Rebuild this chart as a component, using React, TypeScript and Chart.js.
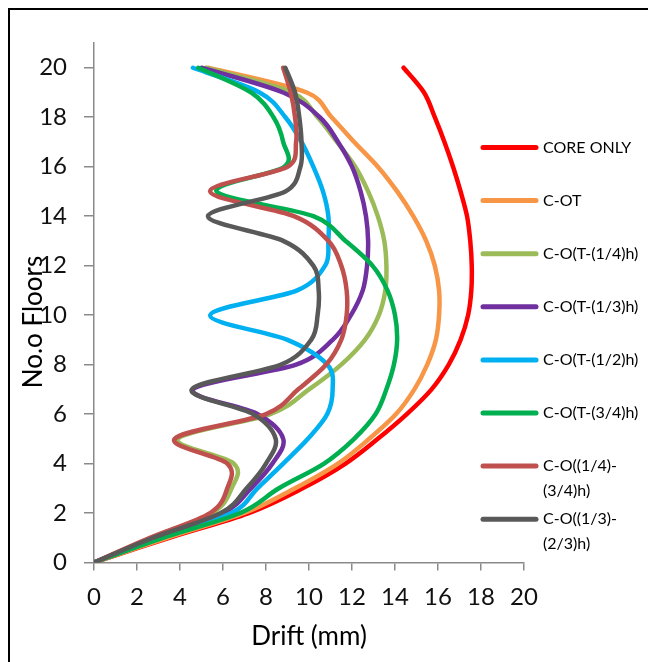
import React, { useEffect, useRef } from 'react';
import { Chart, registerables } from 'chart.js';

Chart.register(...registerables);

// ---- data ----
const floors = [0, 1, 2, 3, 4, 5, 6, 7, 8, 9, 10, 11, 12, 13, 14, 15, 16, 17, 18, 19, 20];
const xTicks = [0, 2, 4, 6, 8, 10, 12, 14, 16, 18, 20];
const yTicks = [0, 2, 4, 6, 8, 10, 12, 14, 16, 18, 20];

const seriesNames = [
  'CORE ONLY',
  'C-OT',
  'C-O(T-(1/4)h)',
  'C-O(T-(1/3)h)',
  'C-O(T-(1/2)h)',
  'C-O(T-(3/4)h)',
  'C-O((1/4)-(3/4)h)',
  'C-O((1/3)-(2/3)h)',
];
const legendLines = [
  ['CORE ONLY'],
  ['C-OT'],
  ['C-O(T-(1/4)h)'],
  ['C-O(T-(1/3)h)'],
  ['C-O(T-(1/2)h)'],
  ['C-O(T-(3/4)h)'],
  ['C-O((1/4)-', '(3/4)h)'],
  ['C-O((1/3)-', '(2/3)h)'],
];

const coreOnly = [0, 3.5, 7.2, 9.7, 11.7, 13.2, 14.55, 15.7, 16.5, 17.05, 17.4, 17.55, 17.57, 17.5, 17.35, 17.05, 16.7, 16.3, 15.85, 15.35, 14.4];
const cOT = [0, 3.4, 7.0, 9.35, 11.35, 12.8, 14.05, 14.9, 15.5, 15.9, 16.05, 16.05, 15.85, 15.45, 14.85, 14.1, 13.2, 12.1, 11.05, 9.9, 5.3];
const cOT14 = [0, 2.65, 5.5, 6.4, 6.5, 3.9, 8.2, 10.0, 11.5, 12.6, 13.25, 13.55, 13.6, 13.5, 13.2, 12.75, 12.15, 11.3, 10.4, 9.2, 5.2];
const cOT13 = [0, 2.8, 6.0, 7.3, 8.3, 8.8, 7.6, 4.6, 9.4, 11.1, 11.95, 12.5, 12.7, 12.75, 12.65, 12.4, 12.0, 11.35, 10.5, 8.8, 5.0];
const cOT12 = [0, 3.0, 6.4, 7.6, 8.8, 9.95, 10.85, 11.1, 10.85, 9.0, 5.4, 9.45, 10.75, 10.9, 10.9, 10.65, 10.2, 9.65, 8.9, 7.7, 4.6];
const cOT34 = [0, 3.2, 6.8, 8.6, 10.7, 12.1, 13.1, 13.6, 13.95, 14.1, 14.0, 13.65, 12.95, 11.7, 10.2, 5.7, 8.85, 8.8, 8.35, 7.3, 4.85];
const cO1434 = [0, 2.6, 5.4, 6.2, 6.2, 3.75, 8.0, 9.5, 10.8, 11.5, 11.75, 11.75, 11.5, 10.9, 9.3, 5.4, 9.0, 9.4, 9.35, 9.15, 8.8];
const cO1323 = [0, 2.75, 5.9, 7.1, 8.0, 8.45, 7.4, 4.55, 8.7, 10.1, 10.4, 10.45, 10.2, 8.8, 5.3, 8.9, 9.6, 9.65, 9.55, 9.35, 8.9];

const seriesValues = [coreOnly, cOT, cOT14, cOT13, cOT12, cOT34, cO1434, cO1323];
const seriesColors = ['#FF0000', '#F79646', '#9BBB59', '#7030A0', '#00B0F0', '#00B050', '#C0504D', '#595959'];

const FONT = 'Lato, "Open Sans", "DejaVu Sans", sans-serif';
const AXIS_COLOR = '#8a8a8a';

// Excel-like "smoothed line": Bezier arms = (P[i+1]-P[i-1])/6, capped at half the segment length
function excelControlPoints(pts: any[]) {
  const n = pts.length;
  const dist = (a: any, b: any) => Math.hypot(b.x - a.x, b.y - a.y);
  for (let i = 0; i < n - 1; i++) {
    const p0 = pts[Math.max(0, i - 1)];
    const p1 = pts[i];
    const p2 = pts[i + 1];
    const p3 = pts[Math.min(n - 1, i + 2)];
    const d12 = dist(p1, p2);
    const d02 = dist(p0, p2);
    const d13 = dist(p1, p3);
    let f1 = 1 / 6;
    let f2 = 1 / 6;
    if (d02 / 6 >= d12 / 2 && d02 > 0) f1 = d12 / 2 / d02;
    if (d13 / 6 >= d12 / 2 && d13 > 0) f2 = d12 / 2 / d13;
    p1.cp2x = p1.x + f1 * (p2.x - p0.x);
    p1.cp2y = p1.y + f1 * (p2.y - p0.y);
    p2.cp1x = p2.x - f2 * (p3.x - p1.x);
    p2.cp1y = p2.y - f2 * (p3.y - p1.y);
  }
  if (n) {
    pts[0].cp1x = pts[0].x; pts[0].cp1y = pts[0].y;
    pts[n - 1].cp2x = pts[n - 1].x; pts[n - 1].cp2y = pts[n - 1].y;
  }
}

const smoothPlugin = {
  id: 'excelSmooth',
  afterDatasetsUpdate(chart: any) {
    chart.getSortedVisibleDatasetMetas().forEach((meta: any) => {
      const line = meta.dataset;
      if (!line) return;
      line.updateControlPoints = function () {
        excelControlPoints(this._points || meta.data);
        this._pointsUpdated = true;
      };
      line._pointsUpdated = false;
    });
  },
  beforeDatasetDraw(chart: any, args: any) {
    const line = args.meta.dataset;
    if (!line) return;
    excelControlPoints(args.meta.data);
    line._pointsUpdated = true;
    line._path = undefined;
  },
};

const decorPlugin = {
  id: 'decor',
  afterDraw(chart: any) {
    const ctx = chart.ctx as CanvasRenderingContext2D;
    const area = chart.chartArea;
    ctx.save();
    // legend
    const sampleX1 = area.right - 41;
    const sampleX2 = area.right + 12;
    const textX = area.right + 19;
    const firstY = area.top + 104.5;
    const gap = 53.1;
    ctx.font = `16px ${FONT}`;
    ctx.textBaseline = 'middle';
    ctx.textAlign = 'left';
    legendLines.forEach((lines, i) => {
      const y = firstY + i * gap;
      ctx.strokeStyle = seriesColors[i];
      ctx.lineWidth = 5;
      ctx.lineCap = 'round';
      ctx.beginPath();
      ctx.moveTo(sampleX1, y);
      ctx.lineTo(sampleX2, y);
      ctx.stroke();
      ctx.fillStyle = '#000';
      lines.forEach((t, j) => ctx.fillText(t, textX, y + j * 25));
    });
    // axis titles
    ctx.fillStyle = '#000';
    ctx.font = `26px ${FONT}`;
    ctx.textAlign = 'center';
    ctx.textBaseline = 'alphabetic';
    ctx.fillText('Drift (mm)', (area.left + area.right) / 2, area.bottom + 82);
    ctx.translate(32, area.top + 279);
    ctx.rotate(-Math.PI / 2);
    ctx.fillText('No.o Floors', 0, 0);
    ctx.restore();
  },
};

export default function App() {
  const ref = useRef<HTMLCanvasElement>(null);
  useEffect(() => {
    const canvas = ref.current!;
    const chart = new Chart(canvas, {
      type: 'scatter',
      data: {
        datasets: seriesNames.map((name, i) => ({
          label: name,
          data: floors.map((f, k) => ({ x: seriesValues[i][k], y: f })),
          showLine: true,
          borderColor: seriesColors[i],
          backgroundColor: seriesColors[i],
          borderWidth: 4.5,
          pointRadius: 0,
          pointHoverRadius: 0,
          tension: 0.4,
          fill: false,
          borderCapStyle: 'round',
          borderJoinStyle: 'round',
          order: seriesNames.length - i,
        })),
      },
      options: {
        responsive: false,
        animation: false,
        events: [],
        layout: { padding: { top: 33, right: 124, left: 0, bottom: 0 } },
        plugins: { legend: { display: false }, tooltip: { enabled: false } },
        scales: {
          x: {
            type: 'linear',
            min: 0,
            max: 20,
            afterBuildTicks: (s: any) => { s.ticks = xTicks.map((v) => ({ value: v })); },
            afterFit: (s: any) => { s.height = 97.5; },
            ticks: { color: '#111', font: { family: FONT, size: 24 }, padding: 12, maxRotation: 0 },
            grid: { drawOnChartArea: false, drawTicks: true, tickLength: 8, color: AXIS_COLOR, lineWidth: 1.5 },
            border: { color: AXIS_COLOR, width: 1.5 },
          },
          y: {
            type: 'linear',
            min: 0,
            max: 21,
            afterBuildTicks: (s: any) => { s.ticks = yTicks.map((v) => ({ value: v })); },
            afterFit: (s: any) => { s.width = 84; },
            ticks: { color: '#111', font: { family: FONT, size: 24 }, padding: 17 },
            grid: { drawOnChartArea: false, drawTicks: true, tickLength: 10, color: AXIS_COLOR, lineWidth: 1.5 },
            border: { color: AXIS_COLOR, width: 1.5 },
          },
        },
      } as any,
      plugins: [smoothPlugin, decorPlugin],
    });
    return () => chart.destroy();
  }, []);

  return (
    <div
      style={{
        position: 'relative',
        width: 642,
        height: 660,
        border: '2px solid #000',
        boxSizing: 'border-box',
        background: '#fff',
      }}
    >
      <canvas ref={ref} width={638} height={650} style={{ position: 'absolute', left: 0, top: 0, width: 638, height: 650 }} />
    </div>
  );
}
